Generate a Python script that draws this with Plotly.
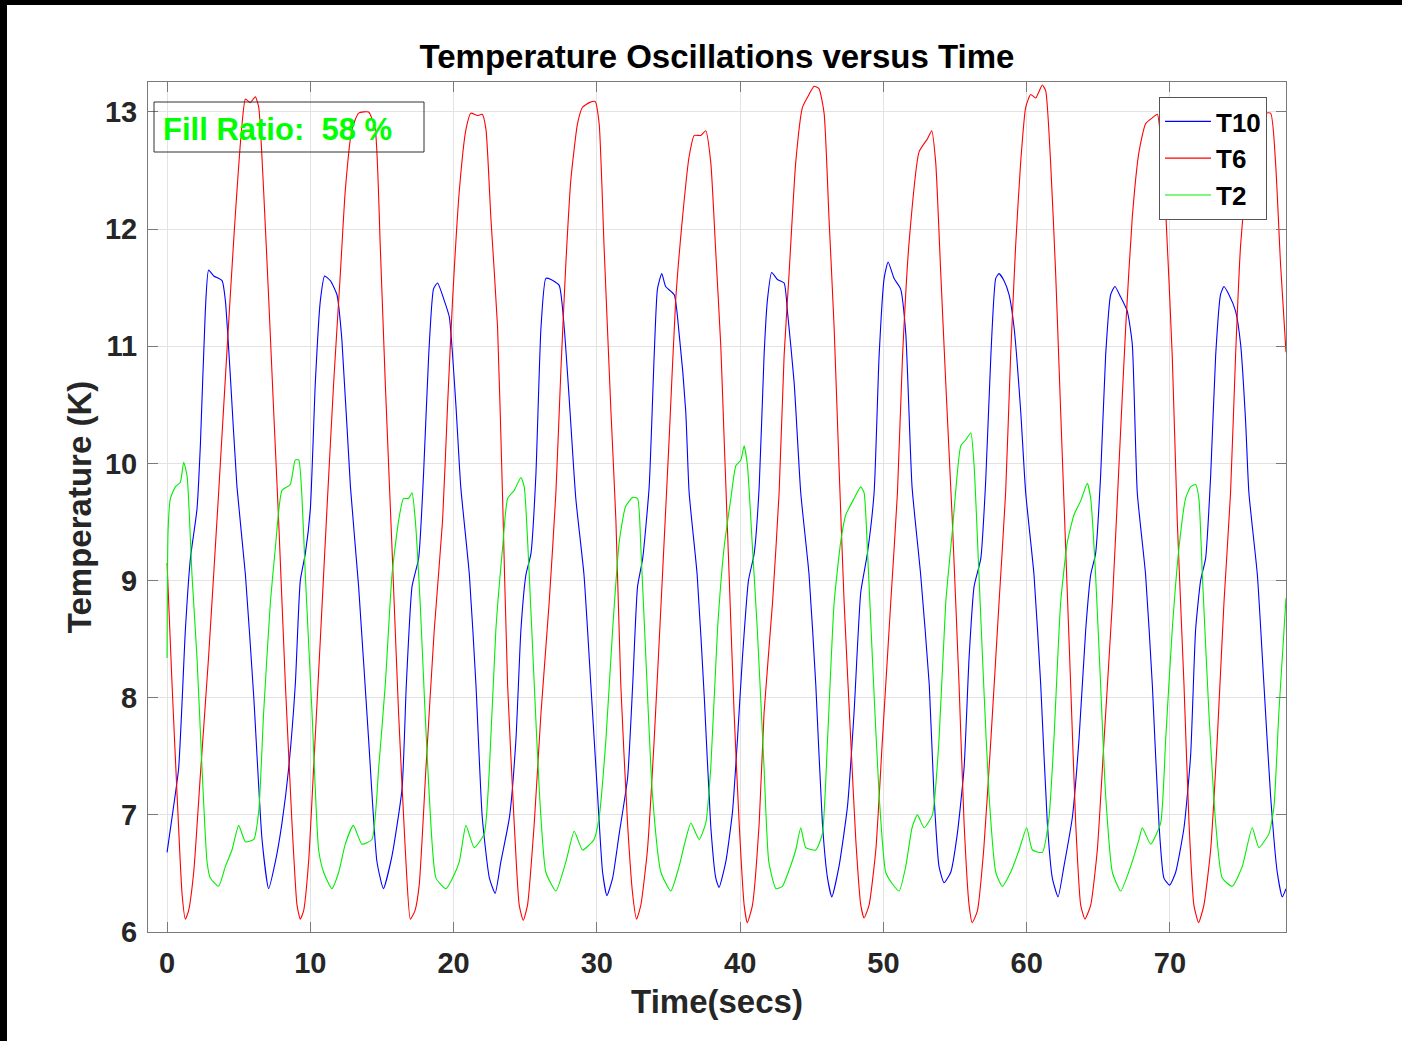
import plotly.graph_objects as go

# ---- measured temperature traces (time in s, temperature in K) ----
t10_time = [0.0, 0.35, 0.81, 1.28, 1.63, 2.09, 2.33, 2.67, 2.9, 3.26, 3.84, 4.07, 4.42, 4.88, 5.47,
            6.05, 6.63, 7.09, 7.56, 8.02, 8.49, 8.95, 9.3, 9.65, 10.0, 10.35, 10.7, 11.0, 11.4, 11.86,
            12.2, 12.8, 13.37, 14.07, 14.65, 15.1, 15.7, 16.4, 16.7, 17.1, 17.56, 17.9, 18.26, 18.6,
            18.88, 19.35, 19.7, 20.16, 20.5, 21.1, 21.56, 22.0, 22.5, 22.9, 23.3, 23.9, 24.35, 24.7,
            25.05, 25.4, 25.74, 26.1, 26.44, 26.8, 27.37, 27.72, 28.07, 28.53, 29.1, 29.58, 30.05,
            30.4, 30.7, 31.1, 31.56, 32.14, 32.5, 32.84, 33.2, 33.65, 34.0, 34.23, 34.53, 34.8, 35.4,
            35.74, 36.2, 36.44, 37.0, 37.5, 37.95, 38.3, 38.53, 39.0, 39.47, 39.81, 40.16, 40.58,
            40.98, 41.33, 41.67, 41.9, 42.2, 42.6, 43.07, 43.3, 43.77, 44.23, 44.81, 45.28, 45.74,
            46.1, 46.4, 46.9, 47.49, 47.95, 48.42, 48.88, 49.35, 49.7, 50.05, 50.33, 50.74, 51.2,
            51.56, 52.0, 52.6, 53.2, 53.53, 53.88, 54.23, 54.7, 55.16, 55.63, 55.98, 56.33, 56.8,
            57.14, 57.5, 57.84, 58.07, 58.42, 58.77, 59.12, 59.58, 59.93, 60.51, 60.98, 61.44, 61.79,
            62.19, 62.6, 63.19, 63.65, 64.12, 64.47, 64.81, 65.16, 65.51, 65.86, 66.16, 66.56, 67.02,
            67.37, 67.72, 68.3, 68.77, 69.23, 69.58, 69.98, 70.4, 70.98, 71.44, 71.79, 72.14, 72.49,
            72.84, 73.19, 73.53, 73.77, 74.12, 74.58, 74.93, 75.28, 75.51, 76.1, 76.56, 77.02, 77.49,
            77.84, 78.1]
t10_temp = [6.68, 6.98, 7.4, 8.58, 9.19, 9.61, 10.17, 11.3, 11.65, 11.6, 11.56, 11.39, 10.74, 9.8, 9.05,
            8.01, 6.79, 6.37, 6.6, 6.93, 7.4, 8.11, 9.0, 9.23, 9.61, 10.69, 11.39, 11.6, 11.56, 11.44,
            11.06, 9.8, 8.95, 7.64, 6.6, 6.37, 6.65, 7.22, 8.11, 8.95, 9.19, 9.9, 10.92, 11.49,
            11.54, 11.39, 11.25, 10.5, 9.8, 9.05, 8.11, 6.98, 6.46, 6.33, 6.6, 6.98, 7.64, 8.58,
            9.05, 9.23, 9.89, 11.16, 11.58, 11.57, 11.52, 11.16, 10.55, 9.7, 9.05, 8.11, 7.17,
            6.51, 6.31, 6.46, 6.84, 7.31, 8.11, 8.95, 9.19, 9.8, 10.92, 11.49, 11.62, 11.51, 11.44,
            11.11, 10.45, 9.75, 9.05, 8.0, 6.9, 6.46, 6.38, 6.6, 7.03, 7.64, 8.34, 9.0,
            9.23, 9.8, 10.92, 11.39, 11.63, 11.57, 11.54, 11.3, 10.69, 9.75, 9.05, 8.11, 6.93,
            6.46, 6.3, 6.56, 7.07, 7.87, 8.9, 9.23, 9.75, 10.92, 11.58, 11.72, 11.58, 11.49,
            11.11, 9.8, 9.05, 8.11, 7.17, 6.56, 6.42, 6.51, 6.84, 7.4, 8.34, 8.95, 9.19,
            9.85, 10.92, 11.58, 11.62, 11.56, 11.44, 11.16, 10.45, 9.75, 9.05, 8.11, 6.93, 6.46,
            6.3, 6.56, 6.98, 7.64, 8.58, 9.05, 9.23, 9.89, 10.92, 11.44, 11.51, 11.42, 11.3,
            11.02, 9.75, 9.05, 8.11, 6.93, 6.46, 6.4, 6.51, 6.89, 7.5, 8.58, 9.0, 9.19,
            9.89, 10.92, 11.44, 11.51, 11.44, 11.3, 11.02, 10.36, 9.75, 9.05, 8.11, 7.17, 6.51,
            6.3, 6.37]

t6_time = [0.0, 0.35, 0.7, 1.05, 1.28, 1.5, 1.86, 2.33, 2.9, 3.6, 4.2, 4.7, 5.2, 5.47, 5.81, 6.16, 6.4,
           6.74, 7.1, 7.44, 7.79, 8.26, 8.72, 9.07, 9.3, 9.53, 9.88, 10.23, 10.7, 11.16, 11.63, 12.1,
           12.44, 12.9, 13.37, 14.07, 14.53, 14.88, 15.23, 15.7, 16.16, 16.63, 16.98, 17.3, 17.6,
           18.07, 18.65, 19.23, 19.58, 19.93, 20.4, 20.86, 21.2, 21.67, 22.0, 22.26, 22.6, 23.07,
           23.42, 23.77, 24.23, 24.58, 24.86, 25.16, 25.63, 26.1, 26.67, 27.14, 27.49, 27.84, 28.19,
           28.65, 29.0, 29.47, 29.88, 30.16, 30.5, 30.98, 31.33, 31.67, 32.14, 32.5, 32.77, 33.07,
           33.53, 34.0, 34.58, 35.05, 35.5, 35.98, 36.44, 36.8, 37.26, 37.6, 37.95, 38.3, 38.65,
           38.88, 39.23, 39.58, 39.93, 40.28, 40.5, 40.86, 41.33, 41.67, 42.26, 42.72, 43.07, 43.42,
           43.88, 44.35, 44.81, 45.16, 45.5, 45.86, 46.2, 46.56, 46.9, 47.26, 47.72, 48.07, 48.42,
           48.65, 49.0, 49.47, 49.93, 50.51, 50.98, 51.33, 51.8, 52.49, 53.07, 53.37, 53.65, 54.0,
           54.35, 54.81, 55.28, 55.63, 55.98, 56.2, 56.56, 57.0, 57.5, 58.07, 58.53, 58.88, 59.23,
           59.58, 59.93, 60.28, 60.63, 61.09, 61.33, 61.67, 62.02, 62.37, 62.72, 63.07, 63.42, 63.77,
           64.07, 64.47, 64.93, 65.4, 65.98, 66.44, 66.91, 67.37, 67.84, 68.3, 68.77, 69.12, 69.4,
           69.7, 70.16, 70.51, 70.98, 71.33, 71.67, 72.0, 72.37, 72.84, 73.3, 73.77, 74.23, 74.58,
           74.93, 75.28, 75.8, 76.4, 77.02, 77.37, 77.72, 78.1]
t6_temp = [9.15, 8.11, 7.17, 6.32, 6.11, 6.18, 6.51, 7.35, 8.35, 9.75, 11.0, 12.0, 12.85, 13.11, 13.08, 13.13, 13.04,
           12.33, 11.39, 10.45, 9.51, 8.11, 6.93, 6.23, 6.11, 6.18, 6.6, 7.4, 8.5, 9.61, 10.69, 11.63,
           12.33, 12.85, 12.99, 13.0, 12.85, 11.86, 10.69, 9.28, 7.87, 6.7, 6.11, 6.18, 6.4,
           7.4, 8.58, 9.51, 10.5, 11.4, 12.33, 12.85, 12.99, 12.97, 12.98, 12.85, 12.1, 11.16,
           9.7, 8.11, 6.93, 6.23, 6.1, 6.23, 6.93, 7.87, 8.81, 9.75, 10.8, 11.72, 12.43,
           12.9, 13.04, 13.08, 13.09, 12.9, 11.86, 10.45, 9.51, 8.11, 6.93, 6.32, 6.11, 6.23,
           6.7, 7.64, 9.05, 10.22, 11.39, 12.1, 12.62, 12.8, 12.8, 12.84, 12.57, 11.8, 11.0,
           10.22, 9.05, 7.87, 6.93, 6.23, 6.08, 6.23, 6.93, 7.87, 8.81, 9.75, 10.92, 11.63,
           12.57, 13.04, 13.15, 13.22, 13.2, 12.99, 12.1, 11.16, 9.98, 8.81, 7.64, 6.79, 6.23,
           6.12, 6.23, 6.7, 7.64, 8.81, 9.75, 10.9, 11.9, 12.66, 12.77, 12.84, 12.57, 11.63,
           10.69, 9.51, 8.11, 6.93, 6.23, 6.08, 6.18, 6.7, 7.64, 8.81, 9.75, 10.92, 11.86,
           12.57, 13.04, 13.15, 13.12, 13.23, 13.18, 12.57, 11.63, 10.45, 9.28, 8.11, 6.93, 6.23,
           6.11, 6.23, 6.7, 7.64, 8.81, 9.98, 11.16, 12.1, 12.66, 12.9, 12.95, 12.98, 12.7,
           12.16, 10.92, 9.51, 8.11, 6.93, 6.23, 6.08, 6.23, 6.7, 7.64, 8.81, 9.75, 10.92,
           11.86, 12.33, 12.8, 12.98, 12.99, 12.57, 11.7, 10.95]

t2_time = [0.0, 0.07, 0.23, 0.58, 0.93, 1.16, 1.4, 1.74, 2.09, 2.44, 2.79, 3.02, 3.6, 4.07, 4.53, 5.0,
           5.47, 6.05, 6.4, 6.74, 7.21, 7.56, 8.02, 8.6, 8.95, 9.19, 9.42, 9.65, 10.12, 10.58, 10.93,
           11.5, 11.98, 12.44, 13.0, 13.6, 14.3, 14.77, 15.23, 15.7, 16.16, 16.5, 16.86, 17.1, 17.33,
           17.67, 18.0, 18.3, 18.77, 19.47, 19.93, 20.4, 20.86, 21.44, 22.14, 22.5, 22.95, 23.42,
           23.77, 24.23, 24.7, 24.93, 25.28, 25.63, 26.0, 26.44, 27.14, 27.84, 28.42, 29.0, 29.8,
           30.16, 30.63, 31.1, 31.56, 32.0, 32.5, 32.84, 33.07, 33.42, 33.88, 34.47, 35.16, 35.74,
           36.2, 36.56, 37.14, 37.6, 37.95, 38.42, 38.88, 39.35, 39.7, 40.05, 40.28, 40.51, 40.86,
           41.2, 41.67, 42.0, 42.5, 42.95, 43.42, 43.88, 44.23, 44.58, 45.28, 45.74, 46.1, 46.56,
           47.02, 47.37, 47.95, 48.42, 48.65, 48.88, 49.23, 49.7, 50.16, 50.63, 51.1, 51.56, 52.0,
           52.37, 52.84, 53.42, 53.88, 54.35, 54.81, 55.4, 55.74, 56.1, 56.33, 56.67, 57.0, 57.37,
           57.84, 58.3, 58.88, 59.47, 60.0, 60.4, 61.09, 61.56, 61.9, 62.37, 62.84, 63.3, 63.77,
           64.23, 64.47, 64.81, 65.16, 65.51, 65.98, 66.56, 67.26, 67.84, 68.07, 68.65, 69.35, 69.7,
           70.16, 70.63, 71.09, 71.44, 71.79, 72.02, 72.26, 72.72, 73.19, 73.65, 74.35, 75.05, 75.74,
           76.21, 76.91, 77.26, 77.6, 78.1]
t2_temp = [8.34, 9.42, 9.7, 9.8, 9.84, 10.01, 9.89, 9.05, 8.34, 7.4, 6.6, 6.46, 6.39, 6.56, 6.7, 6.91,
           6.77, 6.79, 7.03, 7.87, 8.81, 9.28, 9.77, 9.82, 10.03, 10.03, 9.7, 9.05, 7.87, 6.7, 6.51,
           6.37, 6.51, 6.75, 6.91, 6.75, 6.79, 7.4, 8.11, 9.05, 9.51, 9.7, 9.7, 9.75, 9.51,
           8.8, 7.9, 7.17, 6.46, 6.37, 6.46, 6.6, 6.91, 6.72, 6.84, 7.4, 8.58, 9.28,
           9.7, 9.77, 9.88, 9.8, 9.05, 8.11, 7.17, 6.51, 6.35, 6.6, 6.86, 6.7, 6.79,
           6.98, 7.64, 8.58, 9.33, 9.63, 9.71, 9.7, 9.28, 8.34, 7.17, 6.51, 6.35, 6.56,
           6.79, 6.93, 6.79, 6.93, 7.4, 8.58, 9.28, 9.7, 9.98, 10.03, 10.15, 9.98, 9.28,
           8.58, 7.4, 6.6, 6.37, 6.39, 6.53, 6.7, 6.89, 6.72, 6.7, 6.84, 7.64, 8.81,
           9.33, 9.56, 9.7, 9.8, 9.75, 9.28, 8.34, 7.17, 6.51, 6.41, 6.35, 6.56, 6.89,
           7.0, 6.89, 7.0, 7.64, 8.81, 9.42, 10.15, 10.2, 10.26, 9.98, 9.05, 8.11, 7.17,
           6.51, 6.39, 6.51, 6.7, 6.89, 6.7, 6.68, 6.98, 7.64, 8.81, 9.33, 9.56, 9.68,
           9.83, 9.7, 9.05, 8.11, 7.17, 6.51, 6.35, 6.56, 6.79, 6.89, 6.75, 6.93, 7.64,
           8.58, 9.28, 9.7, 9.8, 9.82, 9.7, 9.05, 7.87, 6.93, 6.46, 6.39, 6.56, 6.89,
           6.72, 6.84, 7.07, 7.87, 8.85]

series = [("T10", t10_time, t10_temp, "#0000ff"),
          ("T6", t6_time, t6_temp, "#ff0000"),
          ("T2", t2_time, t2_temp, "#00ee00")]

x_ticks = [0, 10, 20, 30, 40, 50, 60, 70]
y_ticks = [6, 7, 8, 9, 10, 11, 12, 13]
fill_ratio = 58

FONT = "Liberation Sans, Arial, Helvetica, sans-serif"
AXIS_GRAY = "#7a7a7a"
TEXT_DARK = "#262626"

fig = go.Figure()
for name, t, v, color in series:
    fig.add_trace(go.Scatter(x=t, y=v, mode="lines", name=name,
                             line=dict(color=color, width=1.1, shape="spline", smoothing=0.5)))

axis_common = dict(
    showline=True, linecolor=AXIS_GRAY, linewidth=1, mirror="ticks",
    ticks="inside", ticklen=10, tickwidth=1, tickcolor=AXIS_GRAY,
    showgrid=True, gridcolor="#e3e3e3", gridwidth=1, zeroline=False,
    tickfont=dict(family=FONT, size=29, color=TEXT_DARK, weight="bold"),
)

fig.update_layout(
    width=1402, height=1041,
    margin=dict(l=148, r=116, t=82, b=109, pad=0),
    paper_bgcolor="white", plot_bgcolor="white",
    title=dict(text="Temperature Oscillations versus Time", x=0.5, xref="paper", xanchor="center",
               y=1 - 56 / 1041, yref="container", yanchor="middle",
               font=dict(family=FONT, size=33, color="black", weight="bold")),
    xaxis=dict(range=[-1.33, 78.1], tickvals=x_ticks, ticklabelstandoff=5,
               title=dict(text="Time(secs)", standoff=12,
                          font=dict(family=FONT, size=33, color=TEXT_DARK, weight="bold")),
               **axis_common),
    yaxis=dict(range=[6, 13.256], tickvals=y_ticks, ticklabelstandoff=4,
               title=dict(text="Temperature (K)", standoff=3,
                          font=dict(family=FONT, size=33, color=TEXT_DARK, weight="bold")),
               **axis_common),
    legend=dict(x=0.8884, y=0.9824, xanchor="left", yanchor="top",
                bgcolor="white", bordercolor="#555555", borderwidth=1,
                font=dict(family=FONT, size=26, color="black", weight="bold"),
                itemwidth=46, tracegroupgap=0),
    showlegend=True,
)

# fill-ratio text box in the upper left corner of the axes
fig.add_shape(type="rect", xref="paper", yref="paper",
              x0=(154 - 148) / 1138, x1=(424 - 148) / 1138,
              y0=(932 - 152) / 850, y1=(932 - 102) / 850,
              line=dict(color="#333333", width=1), fillcolor="rgba(0,0,0,0)")
fig.add_annotation(xref="paper", yref="paper", x=(161 - 148) / 1138, y=(932 - 129) / 850,
                   xanchor="left", yanchor="middle", showarrow=False,
                   text=f"Fill Ratio:  {fill_ratio} %",
                   font=dict(family=FONT, size=31, color="#00ff00", weight="bold"))

# dark frame strips along the top and left edges of the figure
fig.add_shape(type="rect", xref="paper", yref="paper", layer="above",
              x0=-148 / 1138, x1=(1402 - 148) / 1138, y0=(932 - 5) / 850, y1=932 / 850,
              line=dict(width=0), fillcolor="black")
fig.add_shape(type="rect", xref="paper", yref="paper", layer="above",
              x0=-148 / 1138, x1=(7 - 148) / 1138, y0=(932 - 1041) / 850, y1=932 / 850,
              line=dict(width=0), fillcolor="black")

fig.write_html("out.html")
